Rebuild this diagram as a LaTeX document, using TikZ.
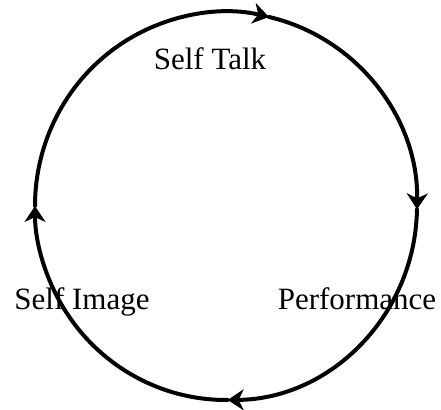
\documentclass[tikz,border=0pt]{standalone}
\usepackage{fontspec}
\setmainfont{Liberation Serif}
\usetikzlibrary{arrows.meta}
\tikzset{
  ring/.style={draw=black,line width=4pt,line cap=round},
  flow/.style={ring,-{Stealth[length=16pt,width=21pt,inset=5pt]}},
  lab/.style={font=\fontsize{31}{36}\selectfont,inner sep=0pt,anchor=base},
}

\begin{document}
\begin{tikzpicture}[x=1pt,y=1pt]
  \useasboundingbox (0,0) rectangle (441,409);
  % the cycle
  \coordinate (mid) at (226,203);
  \path (mid) ++(180:191 and 194) coordinate (pL);
  \path (mid) ++(77:191 and 194) coordinate (pT);
  \path (mid) ++(-1:191 and 194) coordinate (pR);
  \path (mid) ++(-89.5:191 and 194) coordinate (pB);
  \draw[flow] (pL) arc[start angle=180,end angle=77,x radius=191,y radius=194];
  \draw[flow] (pT) arc[start angle=77,end angle=-1,x radius=191,y radius=194];
  \draw[flow] (pR) arc[start angle=-1,end angle=-89.5,x radius=191,y radius=194];
  \draw[flow] (pB) arc[start angle=-89.5,end angle=-180,x radius=191,y radius=194];
  % labels
  \node[lab] (talk) at (210,339) {Self Talk};
  \node[lab] (image) at (82,99) {Self Image};
  \node[lab] (perf) at (357,99) {Performance};
\end{tikzpicture}
\end{document}
